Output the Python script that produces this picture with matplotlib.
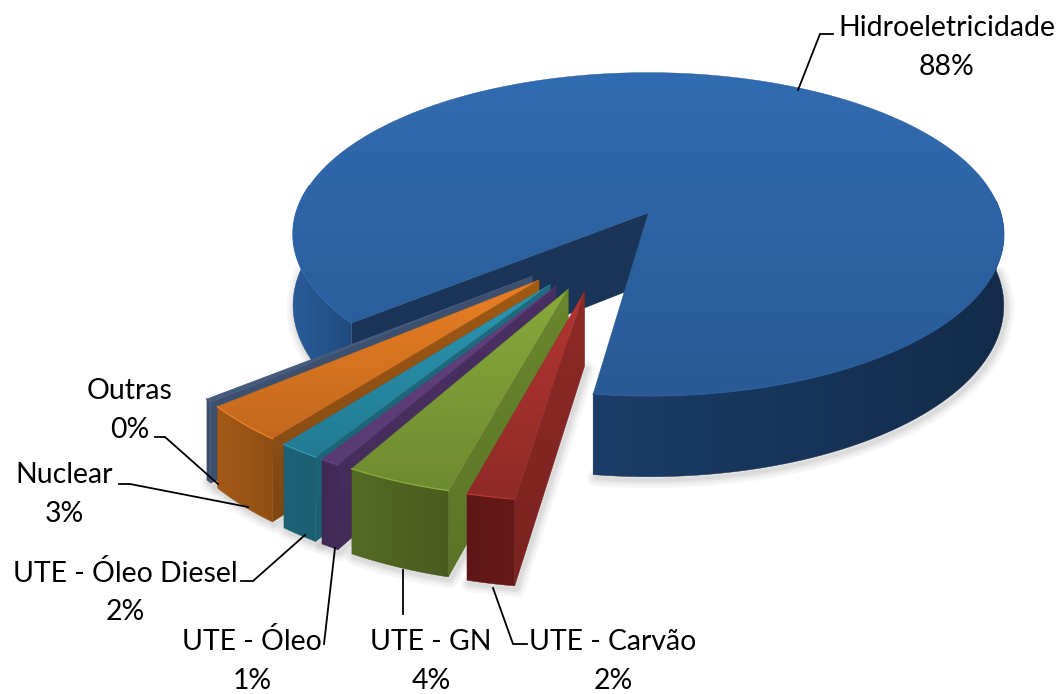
import numpy as np
import matplotlib
matplotlib.use("Agg")
import matplotlib.pyplot as plt
from matplotlib.patches import Polygon
from matplotlib.colors import LinearSegmentedColormap

plt.rcParams['font.family'] = ['Lato', 'DejaVu Sans']

# data, starting at the front and going clockwise
names = ["UTE - Carvão", "UTE - GN", "UTE - Óleo", "UTE - Óleo Diesel", "Nuclear", "Outras", "Hidroeletricidade"]
values = [1.8, 4.0, 0.75, 1.6, 3.4, 0.3, 88.15]

top_cols = [("#b43633", "#8e2a28"), ("#88aa3c", "#6e8a30"), ("#65417f", "#593a72"),
            ("#2c98b4", "#227a92"), ("#ea8024", "#c2681e"), ("#4d6484", "#44597a"), ("#316bb1", "#295a95")]
wall_cols = [("#8d2a28", "#7a2320"), ("#6a872d", "#5b7427"), ("#4a3062", "#432c59"),
             ("#1f6c80", "#1b6174"), ("#a05a14", "#7f4612"), ("#3d5070", "#3d5070"), ("#1a3558", "#1a3558")]
outer_cols = [("#5e1616", "#651a18"), ("#546a24", "#4a5b1f"), ("#3f2a55", "#432c59"),
              ("#1d6375", "#1b5f71"), ("#a55a17", "#8f4e14"), ("#3d5070", "#3d5070"), ("#2a5c9a", "#1f4a7e")]

# projection of the pie plane
cx, cy = 645, 212
rx, ry = 352, 158.6
persp = 0.133
thick = 70
explode = 0.25
start = 7.9
pie_x, pie_y = -0.1125, 0.223


def proj(x, y, z=0):
    w = 1 - persp * y
    return np.column_stack([cx + rx * x / w, cy + (ry * y + z * thick) / w])


def plane(a, tipx, tipy):
    a = np.radians(a)
    return tipx - np.sin(a), tipy + np.cos(a)


def grad_fill(ax, pts, c0, c1, vertical=True, zorder=2):
    # polygon filled with a linear gradient, clipped image
    cmap = LinearSegmentedColormap.from_list("g", [c0, c1])
    g = np.linspace(0, 1, 256)
    g = g[:, None] if vertical else g[None, :]
    x0, y0 = pts.min(axis=0)
    x1, y1 = pts.max(axis=0)
    im = ax.imshow(g, cmap=cmap, vmin=0, vmax=1, extent=(x0, x1, y1, y0), aspect='auto',
                   origin='upper', zorder=zorder, interpolation='bilinear')
    patch = Polygon(pts, closed=True, transform=ax.transData, fc='none', ec='none')
    ax.add_patch(patch)
    im.set_clip_path(patch)
    ax.add_patch(Polygon(pts, closed=True, fc='none', ec=c1, lw=0.3, zorder=zorder))


def shadow(ax, pts, zorder=1):
    # soft grey edge under the bottom of a slice
    for lw in (12, 8, 5, 2.5):
        ax.plot(pts[:, 0] + 2, pts[:, 1] + 3, color='#000000', lw=lw, alpha=0.035,
                solid_capstyle='round', zorder=zorder)


fig = plt.figure(figsize=(10.64, 6.94), dpi=100)
ax = fig.add_axes([0, 0, 1, 1])

# slice angle ranges from the values
total = sum(values)
edges = start + np.cumsum([0] + values) / total * 360
order = [6, 5, 4, 3, 2, 1, 0]
z = 2
for i in order:
    a0, a1 = edges[i], edges[i + 1]
    mid = np.radians((a0 + a1) / 2)
    tipx = pie_x - explode * np.sin(mid)
    tipy = pie_y + explode * np.cos(mid)
    arc = np.linspace(a0, a1, 200)
    ax_, ay_ = plane(arc, tipx, tipy)
    top_arc = proj(ax_, ay_)
    bot_arc = proj(ax_, ay_, 1)
    tip_top = proj(np.array([tipx]), np.array([tipy]))
    tip_bot = proj(np.array([tipx]), np.array([tipy]), 1)

    if i == 6:
        # big slice: outer side on both ends plus the cut wall in the gap
        left = (arc <= 100)
        right = (arc >= 265)
        shadow(ax, bot_arc[left])
        shadow(ax, bot_arc[right])
        grad_fill(ax, np.vstack([top_arc[left], bot_arc[left][::-1]]), "#2a5c9a", "#1f4a7e", vertical=False, zorder=z)
        grad_fill(ax, np.vstack([top_arc[right], bot_arc[right][::-1]]), "#1c3d68", "#132b49", vertical=False, zorder=z)
        wall = np.vstack([tip_top, top_arc[:1], bot_arc[:1], tip_bot])
        grad_fill(ax, wall, wall_cols[i][0], wall_cols[i][1], zorder=z + 1)
        grad_fill(ax, np.vstack([tip_top, top_arc]), top_cols[i][0], top_cols[i][1], zorder=z + 2)
        ax.plot(top_arc[left][:, 0], top_arc[left][:, 1], color="#3168ad", lw=1.0, zorder=z + 3)
        ax.plot(top_arc[right][:, 0], top_arc[right][:, 1], color="#2a5f9f", lw=0.8, zorder=z + 3)
        z += 5
        continue

    # small slice: right wall, outer side, then top
    wall = np.vstack([tip_top, top_arc[:1], bot_arc[:1], tip_bot])
    outer = np.vstack([top_arc, bot_arc[::-1]])
    shadow(ax, np.vstack([bot_arc[::-1], tip_bot]), zorder=z)
    grad_fill(ax, wall, wall_cols[i][0], wall_cols[i][1], zorder=z + 1)
    grad_fill(ax, outer, outer_cols[i][0], outer_cols[i][1], vertical=False, zorder=z + 2)
    grad_fill(ax, np.vstack([tip_top, top_arc]), top_cols[i][0], top_cols[i][1], zorder=z + 3)
    ax.plot(top_arc[:, 0], top_arc[:, 1], color=top_cols[i][0], lw=1.0, zorder=z + 4)
    z += 5

# leader lines
leaders = [
    [(493, 588), (513, 644), (527, 644)],
    [(403, 570), (403, 614)],
    [(335, 548), (324, 644)],
    [(305, 535), (253, 581), (241, 581)],
    [(248, 507), (130, 484), (119, 484)],
    [(218, 484), (165, 437), (155, 437)],
    [(798, 90), (820, 34), (833, 34)],
]
for pts in leaders:
    xs, ys = zip(*pts)
    ax.plot(xs, ys, color='black', lw=1.3, zorder=z + 5, solid_joinstyle='miter')

# labels: name, then value below
label_pos = [(613, 642), (431, 642), (252, 642), (125, 573), (64, 475), (130, 391), (947, 28)]
for name, v, (lx, ly) in zip(names, values, label_pos):
    ax.text(lx, ly, name, ha='center', va='center', fontsize=20.4, color='black', zorder=z + 6)
    ax.text(lx, ly + 39, f"{v:.0f}%", ha='center', va='center', fontsize=20.4, color='black', zorder=z + 6)

ax.set_xlim(0, 1064)
ax.set_ylim(694, 0)
ax.axis('off')
fig.savefig("out.png", dpi=100)
